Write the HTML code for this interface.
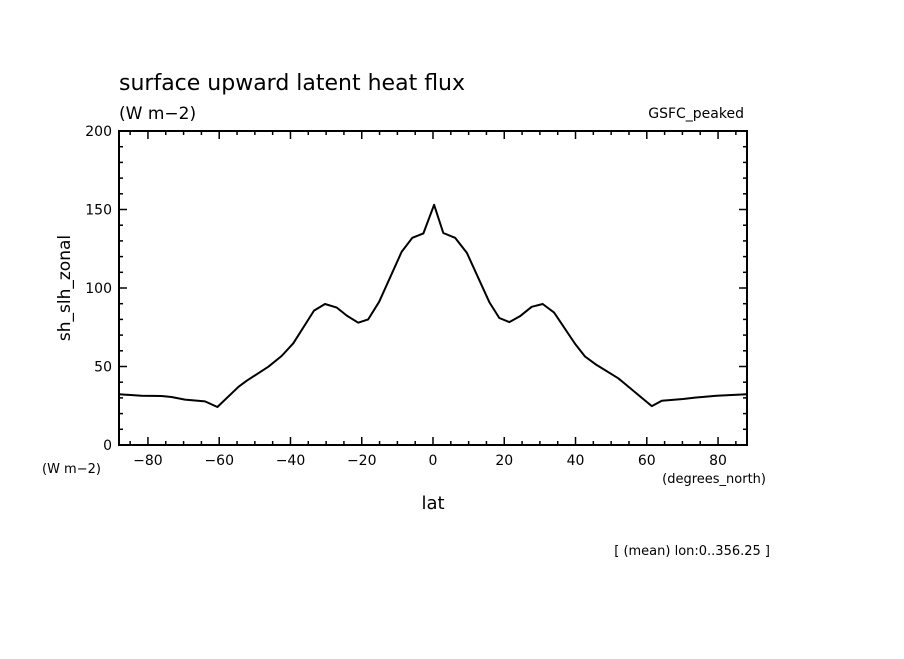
<!DOCTYPE html>
<html><head><meta charset="utf-8"><style>
body{margin:0;background:#fff;}
svg text{font-family:"DejaVu Sans","Liberation Sans",sans-serif;fill:#000;}
</style></head><body>
<svg id="chart" width="904" height="654" xmlns="http://www.w3.org/2000/svg">
<text x="119" y="90" font-size="22">surface upward latent heat flux</text>
<text x="119" y="119" font-size="17">(W m−2)</text>
<text x="744" y="118" font-size="14" text-anchor="end">GSFC_peaked</text>
<text x="0" y="0" font-size="17" text-anchor="middle" transform="translate(70,288) rotate(-90)">sh_slh_zonal</text>
<text x="42" y="473" font-size="13">(W m−2)</text>
<text x="433" y="509" font-size="18" text-anchor="middle">lat</text>
<text x="766" y="483" font-size="13" text-anchor="end">(degrees_north)</text>
<text x="770" y="555" font-size="13" text-anchor="end">[ (mean) lon:0..356.25 ]</text>
<g id="axes"></g>
<path id="series" fill="none" stroke="#000" stroke-width="2" stroke-linejoin="round"></path>
<rect x="119" y="131" width="628" height="314" fill="none" stroke="#000" stroke-width="2"></rect>
</svg>
<script>
const lats = [-88.1,-81.8,-76.2,-73.4,-69.6,-64.0,-60.5,-54.6,-52.3,-46.2,-42.5,-39.2,-33.4,-30.3,-27.0,-24.2,-21.0,-18.2,-15.1,-8.8,-5.8,-2.7,0.3,2.9,6.2,9.5,15.8,18.6,21.4,24.4,27.7,30.8,34.0,39.9,42.7,45.9,52.0,61.4,64.2,70.2,73.5,79.6,88.1];
const values = [32.3,31.4,31.2,30.6,28.9,27.8,24.2,37.1,40.9,49.9,56.7,64.8,85.6,89.8,87.5,82.4,77.9,80.0,91.3,123,132,134.8,153,135,132,122.5,91,80.9,78.3,82,88,89.8,84.3,64.3,56.3,51,42.5,24.8,28.2,29.3,30.2,31.4,32.3];
const xTicks = [-80,-60,-40,-20,0,20,40,60,80];
const yTicks = [0,50,100,150,200];
const xMin=-88.125,xMax=88.125,yMin=0,yMax=200;
const L=119,R=747,T=131,B=445;
const xs=v=>L+(v-xMin)/(xMax-xMin)*(R-L);
const ys=v=>B-(v-yMin)/(yMax-yMin)*(B-T);
const NS="http://www.w3.org/2000/svg";
const g=document.getElementById('axes');
function line(x1,y1,x2,y2,name){const l=document.createElementNS(NS,'line');
l.setAttribute('x1',x1);l.setAttribute('y1',y1);l.setAttribute('x2',x2);l.setAttribute('y2',y2);
l.setAttribute('stroke','#000');l.setAttribute('stroke-width','1.5');


g.appendChild(l);}
function txt(x,y,s,anchor,name){const t=document.createElementNS(NS,'text');
t.setAttribute('x',x);t.setAttribute('y',y);t.setAttribute('font-size','14');t.setAttribute('text-anchor',anchor);t.textContent=s;


g.appendChild(t);}
for(let v=-85;v<=85;v+=5){const x=xs(v);const major=v%20===0;const len=major?8:4;
line(x,B,x,B-len,'x-tick');line(x,T,x,T+len,'x-tick-top');}
for(let v=0;v<=200;v+=10){const y=ys(v);const major=v%50===0;const len=major?8:4;
line(L,y,L+len,y,'y-tick');line(R,y,R-len,y,'y-tick-right');}
xTicks.forEach(v=>txt(xs(v),465,(v<0?'−':'')+Math.abs(v),'middle','x-tick-label'));
yTicks.forEach(v=>txt(112,ys(v)+5,String(v),'end','y-tick-label'));
document.getElementById('series').setAttribute('d',lats.map((la,i)=>(i?'L':'M')+xs(la).toFixed(1)+' '+ys(values[i]).toFixed(1)).join(' '));
</script>
</body></html>
